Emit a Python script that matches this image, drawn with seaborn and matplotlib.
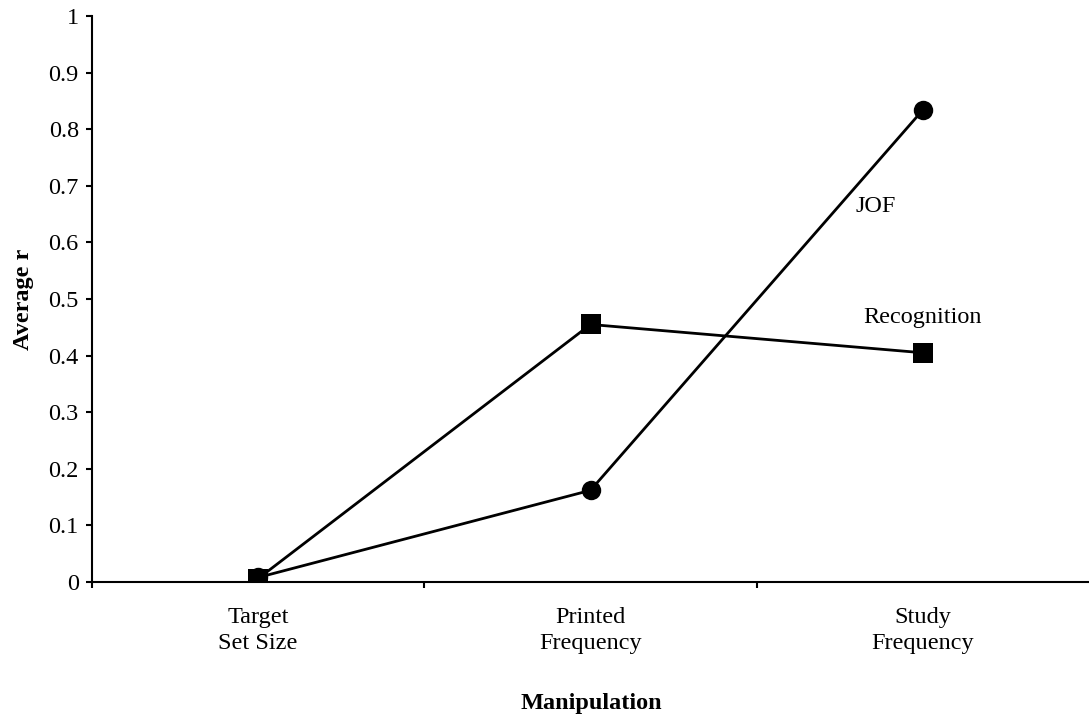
import pandas as pd
import matplotlib.pyplot as plt
import seaborn as sns

# Datos
manipulaciones = ['Target\nSet Size', 'Printed\nFrequency', 'Study\nFrequency']
jof = [0.008, 0.162, 0.834]
recognition = [0.006, 0.455, 0.405]

df = pd.DataFrame({
    'Manipulation': manipulaciones * 2,
    'r': jof + recognition,
    'Measure': ['JOF'] * 3 + ['Recognition'] * 3,
})
df['pos'] = df['Manipulation'].map({m: i for i, m in enumerate(manipulaciones)})

sns.set_style('ticks')
plt.rcParams['font.family'] = ['Liberation Serif', 'DejaVu Serif']
plt.rcParams['text.color'] = 'black'
plt.rcParams['xtick.color'] = 'black'
plt.rcParams['ytick.color'] = 'black'
plt.rcParams['axes.labelcolor'] = 'black'

fig = plt.figure(figsize=(10.89, 7.21), dpi=100)
ax = fig.add_axes([92 / 1089, 1 - 582 / 721, 1 - 92 / 1089, (582 - 16) / 721])

sns.lineplot(data=df, x='pos', y='r', style='Measure', markers={'JOF': 'o', 'Recognition': 's'},
             dashes=False, color='black', linewidth=2, markersize=14, markeredgewidth=0,
             legend=False, ax=ax)

ax.set_xlim(-0.5, 2.5)
ax.set_ylim(0, 1)
ax.set_yticks([i / 10 for i in range(11)])
ax.set_yticklabels(['0'] + [f'{i / 10:.1f}' for i in range(1, 10)] + ['1'], fontsize=17.5)
ax.set_xticks([-0.5, 0.5, 1.5])
ax.set_xticklabels([])
ax.set_xticks([0, 1, 2], minor=True)
ax.set_xticklabels(manipulaciones, minor=True, fontsize=17.5, linespacing=1.3)
ax.tick_params(axis='x', which='minor', length=0, pad=18)
ax.tick_params(axis='both', which='major', length=4.5, width=1.5, color='black')
ax.tick_params(axis='y', pad=5)

for side in ['top', 'right']:
    ax.spines[side].set_visible(False)
for side in ['left', 'bottom']:
    ax.spines[side].set_linewidth(1.5)
    ax.spines[side].set_color('black')

ax.set_xlabel('Manipulation', fontsize=17.5, fontweight='bold')
ax.set_ylabel('Average r', fontsize=17.5, fontweight='bold')
ax.xaxis.set_label_coords((591 - 92) / 997, (582 - 703) / 566)
ax.yaxis.set_label_coords((23 - 92) / 997, 0.5)
ax.xaxis.label.set_va('center')
ax.yaxis.label.set_va('center')

ax.text(1.858, 0.663, 'JOF', fontsize=17.5, ha='center', va='center')
ax.text(1.999, 0.468, 'Recognition', fontsize=17.5, ha='center', va='center')

fig.savefig('out.png', dpi=100)
plt.close()
